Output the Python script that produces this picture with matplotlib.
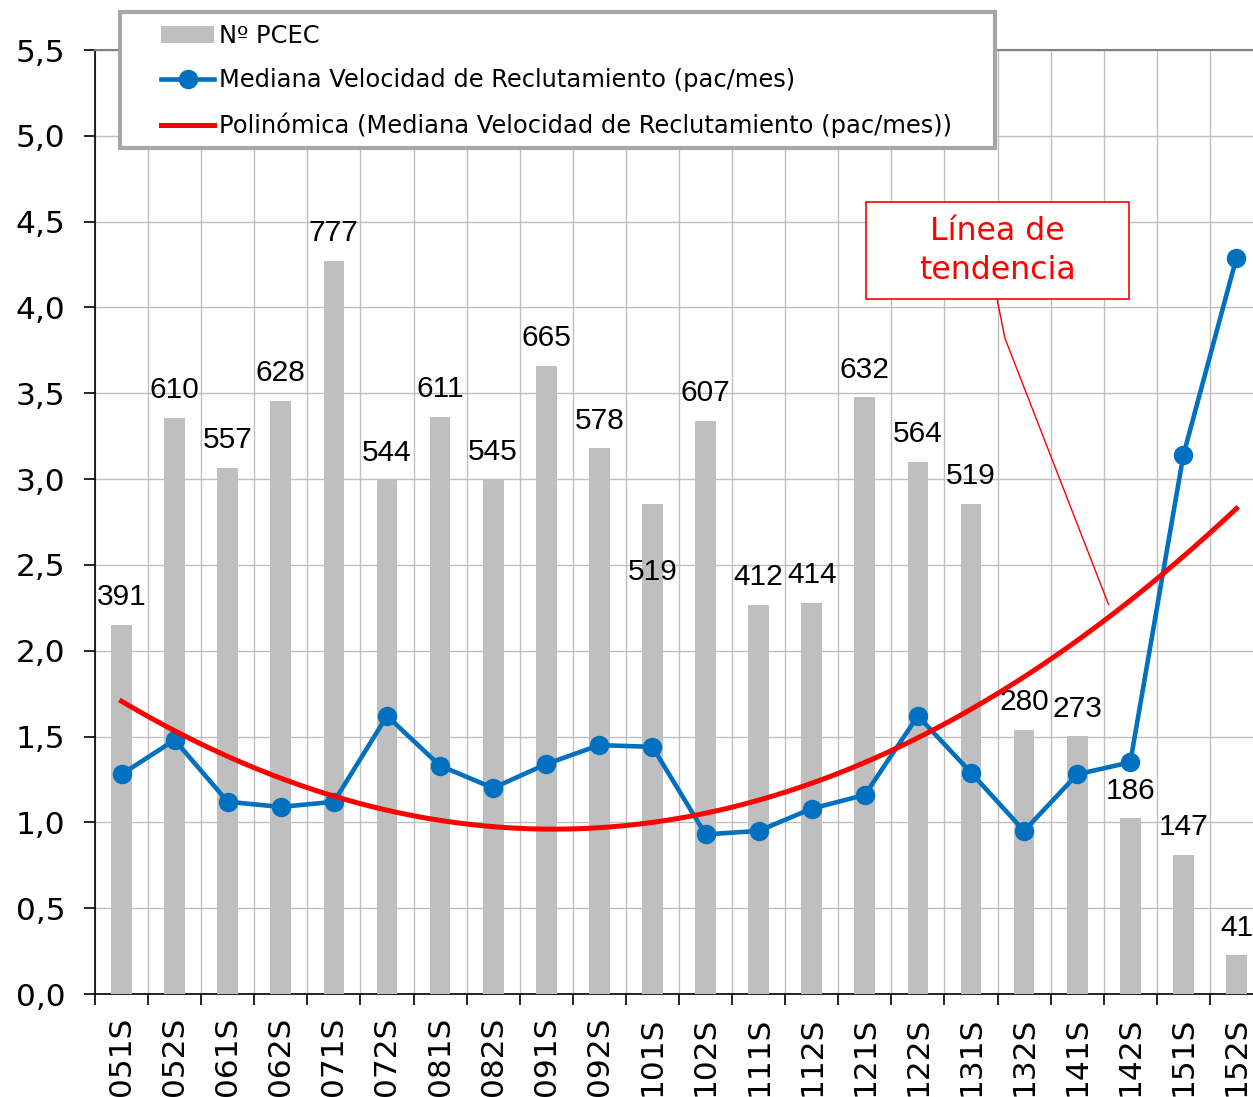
import matplotlib.pyplot as plt
import numpy as np
from matplotlib.ticker import FuncFormatter
from matplotlib.patches import Rectangle

#### DATOS ####
semestres = ["051S", "052S", "061S", "062S", "071S", "072S", "081S", "082S", "091S", "092S", "101S",
             "102S", "111S", "112S", "121S", "122S", "131S", "132S", "141S", "142S", "151S", "152S"]
n_pcec = [391, 610, 557, 628, 777, 544, 611, 545, 665, 578, 519,
          607, 412, 414, 632, 564, 519, 280, 273, 186, 147, 41]
velocidad = [1.28, 1.48, 1.12, 1.09, 1.12, 1.62, 1.33, 1.20, 1.34, 1.45, 1.44,
             0.93, 0.95, 1.08, 1.16, 1.62, 1.29, 0.95, 1.28, 1.35, 3.14, 4.29]

GRIS = "#BFBFBF"
AZUL = "#0070C0"

fig = plt.figure(figsize=(12.53, 10.97), dpi=100)
W, H = 1253, 1097
ax = fig.add_axes([95 / W, (H - 994) / H, (1263 - 95) / W, (994 - 50) / H])

x = np.arange(len(semestres))
ax.set_xlim(-0.5, len(semestres) - 0.5)
ax.set_ylim(0, 5.5)

#### ejes, rejilla y ticks ####
ax.set_yticks(np.arange(0, 5.51, 0.5))
ax.yaxis.set_major_formatter(FuncFormatter(lambda v, p: f"{v:.1f}".replace(".", ",")))
ax.set_xticks(x)
ax.set_xticklabels(semestres, rotation=90)
ax.set_xticks(np.arange(-0.5, len(semestres), 1), minor=True)
ax.grid(True, axis="y", color=GRIS, lw=1)
ax.grid(True, axis="x", which="minor", color=GRIS, lw=1)
ax.set_axisbelow(True)
ax.tick_params(axis="x", which="major", length=0, pad=16, labelsize=22.5)
ax.tick_params(axis="x", which="minor", length=8, width=1.2, direction="out")
ax.tick_params(axis="y", length=8, width=1.2, pad=13.5, labelsize=22.5)
ax.spines["top"].set_color("#808080")
ax.spines["top"].set_linewidth(1.5)
ax.spines["left"].set_linewidth(1.2)
ax.spines["bottom"].set_linewidth(1.2)
ax.spines["right"].set_visible(False)

#### barras: Nº PCEC (eje secundario oculto, 0-1000) ####
ax2 = ax.twinx()
ax2.set_ylim(0, 1000)
ax2.axis("off")
barras = ax2.bar(x, n_pcec, width=0.39, color=GRIS, label="Nº PCEC")
for i, n in enumerate(n_pcec):
    dy = -49 if semestres[i] == "101S" else 20
    ax2.annotate(str(n), (x[i], n), xytext=(0, dy), textcoords="offset points",
                 ha="center", va="center", fontsize=21.5, family="Liberation Sans")

#### linea de velocidad y tendencia polinomica ####
ax3 = ax.twinx()
ax3.set_ylim(0, 5.5)
ax3.axis("off")
linea, = ax3.plot(x, velocidad, color=AZUL, lw=3.3, marker="o", ms=13, zorder=3,
                  label="Mediana Velocidad de Reclutamiento (pac/mes)")
coef = np.polyfit(x, velocidad, 2)
xs = np.linspace(x[0], x[-1], 300)
tend, = ax3.plot(xs, np.polyval(coef, xs), color="red", lw=3.6, zorder=4,
                 label="Polinómica (Mediana Velocidad de Reclutamiento (pac/mes))")

#### cuadro "Linea de tendencia" ####
ax3.add_patch(Rectangle((14.02, 4.05), 4.95, 0.565, fc="white", ec="red", lw=1.2, zorder=6))
ax3.text(16.5, 4.33, "Línea de\ntendencia", color="red", fontsize=22.7, linespacing=1.32,
         ha="center", va="center", zorder=7)
ax3.plot([16.49, 16.64, 18.59], [4.05, 3.82, 2.27], color="red", lw=1, zorder=5)

#### leyenda ####
marco = Rectangle((120 / W, 1 - 148 / H), 875 / W, 136 / H, transform=fig.transFigure,
                  fc="white", ec="#A6A6A6", lw=3, clip_on=False, zorder=10)
ax3.add_patch(marco)
leg = ax3.legend(handles=[barras, linea, tend], loc="upper left",
                 bbox_to_anchor=(161 / W, 1 - 24 / H), bbox_transform=fig.transFigure,
                 frameon=False, fontsize=17.4, borderpad=0, borderaxespad=0,
                 handlelength=2.2, handletextpad=0.22, labelspacing=0.84, numpoints=1)
leg.set_zorder(20)

fig.savefig("out.png", dpi=100)
